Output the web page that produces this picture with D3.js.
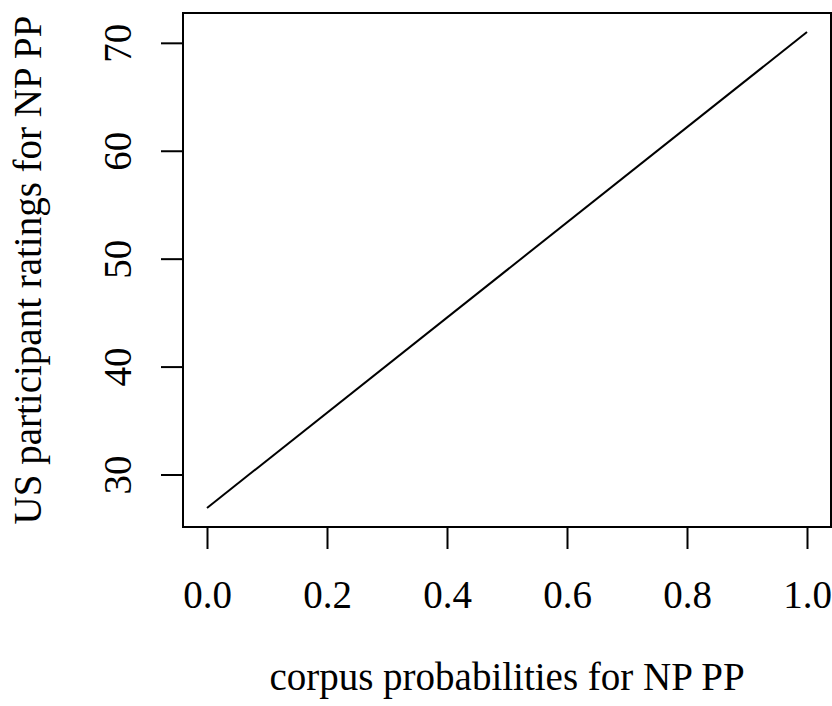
<!DOCTYPE html>
<html>
<head>
<meta charset="utf-8">
<script src="https://cdn.jsdelivr.net/npm/d3@7"></script>
<style>
  body { margin: 0; background: #fff; }
  text { font-family: "Liberation Serif", "Times New Roman", serif; fill: #000; }
</style>
</head>
<body>
<div id="plot"></div>
<script>
let width = 832;
let height = 706;

// fitted line, corpus probability vs rating
let probs = [0, 1];
let ratings = [26.9, 71.0];
let xTicks = [0, 0.2, 0.4, 0.6, 0.8, 1.0];
let yTicks = [30, 40, 50, 60, 70];

let box = { left: 183, right: 831, top: 13, bottom: 527 };
let fontSize = "39px";

let svg = d3.select("#plot")
    .append("svg")
    .attr("width", width)
    .attr("height", height);

// R style: pad the data range by 4% on each side
let xPad = (d3.max(probs) - d3.min(probs)) * 0.04;
let yPad = (d3.max(ratings) - d3.min(ratings)) * 0.04;

let xScale = d3.scaleLinear()
    .domain([d3.min(probs) - xPad, d3.max(probs) + xPad])
    .range([box.left, box.right]);

let yScale = d3.scaleLinear()
    .domain([d3.min(ratings) - yPad, d3.max(ratings) + yPad])
    .range([box.bottom, box.top]);

let xAxis = d3.axisBottom(xScale)
    .tickValues(xTicks)
    .tickFormat(d3.format(".1f"))
    .tickSize(22);

let gx = svg.append("g")
    .attr("transform", "translate(0," + box.bottom + ")")
    .call(xAxis);
gx.select(".domain").remove();
gx.selectAll("line").attr("stroke", "#000").attr("stroke-width", 2);
gx.selectAll("text")
    .style("font-size", fontSize)
    .attr("fill", "#000")
    .attr("dy", null)
    .attr("y", 81);

let yAxis = d3.axisLeft(yScale)
    .tickValues(yTicks)
    .tickSize(22);

let gy = svg.append("g")
    .attr("transform", "translate(" + box.left + ",0)")
    .call(yAxis);
gy.select(".domain").remove();
gy.selectAll("line").attr("stroke", "#000").attr("stroke-width", 2);
gy.selectAll("text")
    .style("font-size", fontSize)
    .attr("fill", "#000")
    .attr("x", null)
    .attr("dy", null)
    .attr("y", 0)
    .attr("text-anchor", "middle")
    .attr("transform", "translate(-52,0) rotate(-90)");

// plot box
svg.append("rect")
    .attr("x", box.left)
    .attr("y", box.top)
    .attr("width", box.right - box.left)
    .attr("height", box.bottom - box.top)
    .attr("fill", "none")
    .attr("stroke", "#000")
    .attr("stroke-width", 2);

let line = d3.line()
    .x((d, i) => xScale(probs[i]))
    .y(d => yScale(d));

svg.append("path")
    .datum(ratings)
    .attr("d", line)
    .attr("fill", "none")
    .attr("stroke", "#000")
    .attr("stroke-width", 2);

svg.append("text")
    .attr("x", (box.left + box.right) / 2)
    .attr("y", 690)
    .style("text-anchor", "middle")
    .style("font-size", fontSize)
    .text("corpus probabilities for NP PP");

let yLabel = { x: 41, y: (box.top + box.bottom) / 2 };
svg.append("text")
    .attr("x", yLabel.x)
    .attr("y", yLabel.y)
    .style("text-anchor", "middle")
    .style("font-size", fontSize)
    .attr("transform", "rotate(-90," + yLabel.x + "," + yLabel.y + ")")
    .text("US participant ratings for NP PP");
</script>
</body>
</html>
